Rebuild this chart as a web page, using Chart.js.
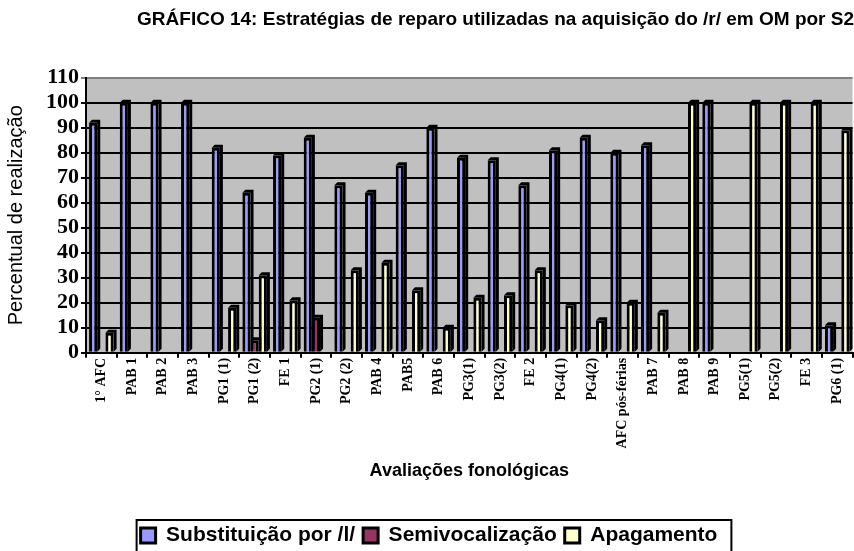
<!DOCTYPE html>
<html>
<head>
<meta charset="utf-8">
<script src="https://cdn.jsdelivr.net/npm/chart.js@4.4.1/dist/chart.umd.min.js"></script>
<style>
    html, body { margin: 0; padding: 0; background: #ffffff; }
    #wrap { width: 854px; height: 551px; }
</style>
</head>
<body>
<div id="wrap"><canvas id="grafico"></canvas></div>
<script>
// ===============================
// DADOS
// ===============================

const avaliacoes = [
    "1° AFC", "PAB 1", "PAB 2", "PAB 3", "PG1 (1)", "PG1 (2)", "FE 1",
    "PG2 (1)", "PG2 (2)", "PAB 4", "PAB5", "PAB 6", "PG3(1)", "PG3(2)",
    "FE 2", "PG4(1)", "PG4(2)", "AFC pós-férias", "PAB 7", "PAB 8",
    "PAB 9", "PG5(1)", "PG5(2)", "FE 3", "PG6 (1)"
];

const substituicao = [
    92, 100, 100, 100, 82, 64, 79, 86, 67, 64, 75, 90, 78, 77,
    67, 81, 86, 80, 83, 0, 100, 0, 0, 0, 11
];

const semivocalizacao = [
    0, 0, 0, 0, 0, 5, 0, 14, 0, 0, 0, 0, 0, 0,
    0, 0, 0, 0, 0, 0, 0, 0, 0, 0, 0
];

const apagamento = [
    8, 0, 0, 0, 18, 31, 21, 0, 33, 36, 25, 10, 22, 23,
    33, 19, 13, 20, 16, 100, 0, 100, 100, 100, 89
];

const yTicks = [0, 10, 20, 30, 40, 50, 60, 70, 80, 90, 100, 110];

// ===============================
// PLUGINS
// ===============================

// fundo cinza da area do grafico
const fundoPlot = {
    id: "fundoPlot",
    beforeDraw(chart) {
        const a = chart.chartArea;
        const ctx = chart.ctx;
        ctx.save();
        ctx.fillStyle = "#c0c0c0";
        ctx.fillRect(a.left, a.top, a.right - a.left, a.bottom - a.top);
        ctx.restore();
    }
};

// lateral escura das barras (efeito 3D)
const profundidade = {
    id: "profundidade",
    beforeDatasetsDraw(chart) {
        const ctx = chart.ctx;
        const d = 3;
        ctx.save();
        ctx.fillStyle = "#000000";
        chart.data.datasets.forEach((ds, i) => {
            chart.getDatasetMeta(i).data.forEach((bar, j) => {
                if (!ds.data[j]) return;
                const w = bar.width / 2;
                ctx.beginPath();
                ctx.moveTo(bar.x - w, bar.y);
                ctx.lineTo(bar.x - w + d, bar.y - d);
                ctx.lineTo(bar.x + w + d, bar.y - d);
                ctx.lineTo(bar.x + w + d, bar.base - d);
                ctx.lineTo(bar.x + w, bar.base);
                ctx.lineTo(bar.x + w, bar.y);
                ctx.closePath();
                ctx.fill();
            });
        });
        ctx.restore();
    }
};

// moldura da legenda
const molduraLegenda = {
    id: "molduraLegenda",
    afterDraw(chart) {
        const caixas = chart.legend.legendHitBoxes;
        if (!caixas || !caixas.length) return;
        const esq = Math.min(...caixas.map(c => c.left)) - 4;
        const dir = Math.max(...caixas.map(c => c.left + c.width)) + 14;
        const topo = caixas[0].top - 5;
        const ctx = chart.ctx;
        ctx.save();
        ctx.strokeStyle = "#000000";
        ctx.lineWidth = 2;
        ctx.strokeRect(esq, topo, dir - esq, 60);
        ctx.restore();
    }
};

// ===============================
// GRAFICO
// ===============================

window.onload = function () {

    new Chart(document.getElementById("grafico"), {

        type: "bar",

        data: {

            labels: avaliacoes,

            datasets: [
                {
                    label: "Substituição por /l/",
                    data: substituicao,
                    backgroundColor: "#9999ff",
                    borderColor: "#000000",
                    borderWidth: 3
                },
                {
                    label: "Semivocalização",
                    data: semivocalizacao,
                    backgroundColor: "#993366",
                    borderColor: "#000000",
                    borderWidth: 3
                },
                {
                    label: "Apagamento",
                    data: apagamento,
                    backgroundColor: "#ffffcc",
                    borderColor: "#000000",
                    borderWidth: 3
                }
            ]
        },

        options: {

            responsive: true,
            maintainAspectRatio: false,
            animation: false,

            categoryPercentage: 0.8,
            barPercentage: 1.0,

            layout: {
                padding: { left: 4, right: 0, top: 0, bottom: -5 }
            },

            plugins: {

                title: {
                    display: true,
                    text: "GRÁFICO 14: Estratégias de reparo utilizadas na aquisição do /r/ em OM por S2",
                    align: "end",
                    color: "#000000",
                    font: { family: "Liberation Sans, Arial", size: 19, weight: "bold" },
                    padding: { top: 8, bottom: 47 }
                },

                legend: {
                    position: "bottom",
                    labels: {
                        color: "#000000",
                        font: { family: "Liberation Sans, Arial", size: 21, weight: "bold" },
                        boxWidth: 15,
                        boxHeight: 15,
                        padding: 8
                    }
                },

                tooltip: { enabled: false }
            },

            scales: {

                x: {
                    border: { color: "#000000", width: 2 },
                    grid: {
                        offset: true,
                        drawOnChartArea: false,
                        color: "#000000",
                        lineWidth: 2,
                        tickLength: 5
                    },
                    ticks: {
                        color: "#000000",
                        minRotation: 90,
                        maxRotation: 90,
                        autoSkip: false,
                        padding: 0,
                        font: { family: "Liberation Serif, Times New Roman", size: 14, weight: "bold" }
                    },
                    title: {
                        display: true,
                        text: "Avaliações fonológicas",
                        color: "#000000",
                        font: { family: "Liberation Sans, Arial", size: 18, weight: "bold" },
                        padding: { top: 12, bottom: 35 }
                    }
                },

                y: {
                    min: 0,
                    max: 110,
                    afterBuildTicks(scale) {
                        scale.ticks = yTicks.map(v => ({ value: v }));
                    },
                    border: { color: "#000000", width: 2 },
                    grid: {
                        color: ctx => ctx.tick && ctx.tick.value === 110 ? "#808080" : "#000000",
                        lineWidth: 2,
                        tickLength: 5
                    },
                    ticks: {
                        color: "#000000",
                        autoSkip: false,
                        padding: 2,
                        font: { family: "Liberation Serif, Times New Roman", size: 22, weight: "bold" }
                    },
                    title: {
                        display: true,
                        text: "Percentual de realização",
                        color: "#000000",
                        font: { family: "Liberation Sans, Arial", size: 20 },
                        padding: { top: 0, bottom: 16 }
                    }
                }
            }
        },

        plugins: [fundoPlot, profundidade, molduraLegenda]
    });
};
</script>
</body>
</html>
